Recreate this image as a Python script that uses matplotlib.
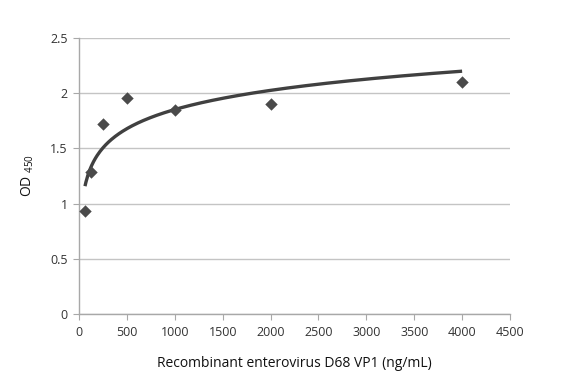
import numpy as np
import matplotlib
matplotlib.use('Agg')
from matplotlib import pyplot as plt

# Data
conc = [62.5, 125, 250, 500, 1000, 2000, 4000]   # ng/mL
od450 = [0.93, 1.29, 1.72, 1.96, 1.85, 1.90, 2.10]

x_ticks = [0, 500, 1000, 1500, 2000, 2500, 3000, 3500, 4000, 4500]
y_ticks = [0, 0.5, 1, 1.5, 2, 2.5]
y_labels = ['0', '0.5', '1', '1.5', '2', '2.5']

plt.rcParams['font.family'] = ['Open Sans', 'DejaVu Sans']
plt.rcParams['mathtext.fontset'] = 'custom'
plt.rcParams['mathtext.rm'] = 'Open Sans'

# logarithmic trend line (like Excel's log trendline)
a, b = np.polyfit(np.log(conc), od450, 1)
xt = np.linspace(min(conc), max(conc), 400)
yt = a * np.log(xt) + b

fig = plt.figure(figsize=(5.82, 3.82), dpi=100)
ax = fig.add_axes([79/582, 1 - 314/382, (510-79)/582, (314-38)/382])

ax.plot(xt, yt, color='#404040', linewidth=2.4, solid_capstyle='butt', zorder=3)
ax.scatter(conc, od450, marker='D', s=40, color='#4a4a4a', zorder=4, linewidths=0)

ax.set_xlim(0, 4500)
ax.set_ylim(0, 2.5)
ax.set_xticks(x_ticks)
ax.set_yticks(y_ticks)
ax.set_yticklabels(y_labels)

ax.grid(axis='y', color='#c4c4c4', linewidth=1.0)
ax.set_axisbelow(True)
for s in ['top', 'right']:
    ax.spines[s].set_visible(False)
for s in ['left', 'bottom']:
    ax.spines[s].set_color('#a8a8a8')
    ax.spines[s].set_linewidth(1.0)

ax.tick_params(axis='x', direction='out', length=4, color='#a8a8a8',
               labelsize=9, labelcolor='#333333', pad=5)
ax.tick_params(axis='y', direction='out', length=4, color='#a8a8a8',
               labelsize=9, labelcolor='#333333', pad=4)

ax.set_xlabel('Recombinant enterovirus D68 VP1 (ng/mL)', fontsize=10,
              color='#111111', labelpad=12)
ax.set_ylabel('OD $_{450}$', fontsize=10, color='#111111', labelpad=10)

plt.savefig('out.png', dpi=100)
